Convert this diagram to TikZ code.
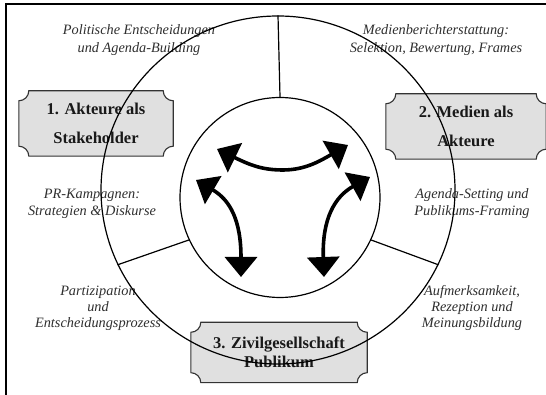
\documentclass[tikz,border=0pt]{standalone}
\usepackage{fontspec}
\setmainfont{Liberation Serif}
\usetikzlibrary{arrows.meta,shapes.geometric,backgrounds}
\definecolor{boxfill}{HTML}{E0E0E0}
\definecolor{boxedge}{HTML}{333333}
\definecolor{labtext}{HTML}{2E2E2E}
\tikzset{
  boxlabel/.style={rectangle, inner sep=0pt, align=center, text=black!90,
    font=\fontsize{16.5}{29}\selectfont\bfseries},
  boxline/.style={draw=boxedge, fill=boxfill, line width=1.1pt},
  itlabel/.style={align=center, inner sep=0pt, text=labtext,
    font=\fontsize{14.3}{17.5}\selectfont\itshape},
  ring/.style={draw=black, line width=1.2pt, inner sep=0pt},
  spoke/.style={draw=black, line width=1.2pt},
  flow/.style={line width=3.6pt, draw=black,
    {Triangle[width=32pt,length=20pt]}-{Triangle[width=32pt,length=20pt]}}
}
\newcommand{\fancyframe}[2]{%
  \path[boxline] ([xshift=#2]#1.north west) -- ([xshift=-#2]#1.north east)
    arc[start angle=180,end angle=270,radius=#2] -- ([yshift=#2]#1.south east)
    arc[start angle=90,end angle=180,radius=#2] -- ([xshift=#2]#1.south west)
    arc[start angle=0,end angle=90,radius=#2] -- ([yshift=-#2]#1.north west)
    arc[start angle=270,end angle=360,radius=#2] -- cycle;}
\begin{document}
\begin{tikzpicture}[x=1pt,y=1pt]
\useasboundingbox (0,0) rectangle (546,395);
% frame
\draw[line width=1.8pt] (6,0) -- (6,391) -- (546,391);

% boxes
\node[boxlabel, minimum width=154pt, minimum height=65pt] (b1) at (96,271.5) {1. Akteure als\\Stakeholder};
\node[boxlabel, minimum width=160pt, minimum height=65pt] (b2) at (466,268.5) {2. Medien als\\Akteure};
\node[boxlabel, minimum width=176pt, minimum height=60pt,
  font=\fontsize{16.5}{19}\selectfont\bfseries] (b3) at (279,42.5) {3. Zivilgesellschaft\\Publikum};
\begin{scope}[on background layer]
  \fancyframe{b1}{10pt}
  \fancyframe{b2}{10pt}
  \fancyframe{b3}{10pt}
\end{scope}

% italic labels
\node[itlabel] (l1) at (139,355) {Politische Entscheidungen\\und Agenda-Building};
\node[itlabel] (l2) at (436,355) {Medienberichterstattung:\\Selektion, Bewertung, Frames};
\node[itlabel] (l3) at (92,191) {PR-Kampagnen:\\Strategien \& Diskurse};
\node[itlabel] (l4) at (472,191.5) {Agenda-Setting und\\Publikums-Framing};
\node[itlabel, font=\fontsize{14.3}{16}\selectfont\itshape] (l5) at (98,87) {Partizipation\\und\\Entscheidungsprozess};
\node[itlabel, font=\fontsize{14.3}{16}\selectfont\itshape] (l6) at (472,87) {Aufmerksamkeit,\\Rezeption und\\Meinungsbildung};

% circles
\node[ring, ellipse, minimum width=354pt, minimum height=348pt] (outer) at (278,205) {};
\node[ring, circle, minimum size=200pt] (inner) at (280,197.5) {};

% spokes
\draw[spoke] (inner.90) -- (outer.90);
\draw[spoke] (inner.205) -- (outer.205);
\draw[spoke] (inner.-25) -- (outer.-25);

% arrows
\coordinate (t1) at (217,246);
\coordinate (t2) at (348,250);
\coordinate (a1) at (196,215);
\coordinate (a2) at (241,118);
\coordinate (c1) at (370,218);
\coordinate (c2) at (324,118);
\draw[flow] (t1) .. controls (250,230) and (262,225) .. (283,225)
  .. controls (305,225) and (320,234) .. (t2);
\draw[flow] (a1) .. controls (230,195) and (241,175) .. (a2);
\draw[flow] (c1) .. controls (334,198) and (322,175) .. (c2);
\end{tikzpicture}
\end{document}
